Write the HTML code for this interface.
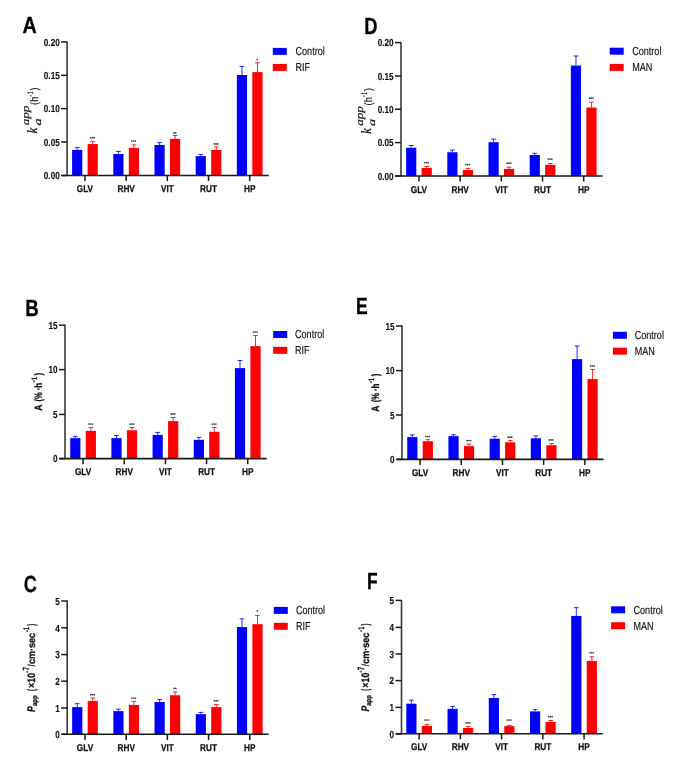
<!DOCTYPE html>
<html><head><meta charset="utf-8"><style>
html,body{margin:0;padding:0;background:#fff;}
body{width:685px;height:777px;overflow:hidden;}
svg{display:block;will-change:transform;}
text{fill:#111;text-rendering:geometricPrecision;}
.fsi{font-family:"Liberation Serif",serif;font-style:italic;}
.fsr{font-family:"Liberation Sans",sans-serif;}
.fsb{font-family:"Liberation Sans",sans-serif;font-weight:bold;}
.fsbi{font-family:"Liberation Sans",sans-serif;font-weight:bold;font-style:italic;}
</style></head>
<body><svg width="685" height="777" viewBox="0 0 685 777">
<rect width="685" height="777" fill="#fff"/>
<text class="fsb" transform="translate(22.60,32.90) scale(0.8470,1)" style="font-size:23.30px;fill:#000;stroke:#000;stroke-width:0.30px">A</text>
<path d="M77.2 149.87V147.4M74.85 147.4H79.55" stroke="#0000ff" stroke-width="0.85" fill="none"/>
<path d="M92.7 144.04V141.6M90.35 141.6H95.05" stroke="#ff0000" stroke-width="0.85" fill="none"/>
<rect x="72.1" y="149.87" width="10.2" height="25.63" fill="#0000ff"/>
<rect x="87.6" y="144.04" width="10.2" height="31.46" fill="#ff0000"/>
<circle cx="90.75" cy="137.7" r="0.85" fill="#3c3c3c"/>
<circle cx="92.5" cy="137.7" r="0.85" fill="#3c3c3c"/>
<circle cx="94.25" cy="137.7" r="0.85" fill="#3c3c3c"/>
<path d="M84.95 175.5V181.1" stroke="#1a1a1a" stroke-width="1.5"/>
<text class="fsb" transform="translate(84.95,192.10) scale(0.8400,1)" style="font-size:9.80px;stroke:#111;stroke-width:0.25px;text-anchor:middle">GLV</text>
<path d="M118.39 154.02V151.45M116.04 151.45H120.74" stroke="#0000ff" stroke-width="0.85" fill="none"/>
<path d="M133.89 147.87V144.9M131.54 144.9H136.24" stroke="#ff0000" stroke-width="0.85" fill="none"/>
<rect x="113.29" y="154.02" width="10.2" height="21.48" fill="#0000ff"/>
<rect x="128.79" y="147.87" width="10.2" height="27.63" fill="#ff0000"/>
<circle cx="131.94" cy="141" r="0.85" fill="#3c3c3c"/>
<circle cx="133.69" cy="141" r="0.85" fill="#3c3c3c"/>
<circle cx="135.44" cy="141" r="0.85" fill="#3c3c3c"/>
<path d="M126.14 175.5V181.1" stroke="#1a1a1a" stroke-width="1.5"/>
<text class="fsb" transform="translate(126.14,192.10) scale(0.8400,1)" style="font-size:9.80px;stroke:#111;stroke-width:0.25px;text-anchor:middle">RHV</text>
<path d="M159.58 144.97V142.6M157.23 142.6H161.93" stroke="#0000ff" stroke-width="0.85" fill="none"/>
<path d="M175.08 138.93V135.5M172.73 135.5H177.43" stroke="#ff0000" stroke-width="0.85" fill="none"/>
<rect x="154.48" y="144.97" width="10.2" height="30.53" fill="#0000ff"/>
<rect x="169.98" y="138.93" width="10.2" height="36.57" fill="#ff0000"/>
<circle cx="174" cy="132.9" r="0.85" fill="#3c3c3c"/>
<circle cx="175.75" cy="132.9" r="0.85" fill="#3c3c3c"/>
<path d="M167.33 175.5V181.1" stroke="#1a1a1a" stroke-width="1.5"/>
<text class="fsb" transform="translate(167.33,192.10) scale(0.8400,1)" style="font-size:9.80px;stroke:#111;stroke-width:0.25px;text-anchor:middle">VIT</text>
<path d="M200.77 156.13V154.45M198.42 154.45H203.12" stroke="#0000ff" stroke-width="0.85" fill="none"/>
<path d="M216.27 149.98V146.9M213.92 146.9H218.62" stroke="#ff0000" stroke-width="0.85" fill="none"/>
<rect x="195.67" y="156.13" width="10.2" height="19.37" fill="#0000ff"/>
<rect x="211.17" y="149.98" width="10.2" height="25.52" fill="#ff0000"/>
<circle cx="214.32" cy="143.9" r="0.85" fill="#3c3c3c"/>
<circle cx="216.07" cy="143.9" r="0.85" fill="#3c3c3c"/>
<circle cx="217.82" cy="143.9" r="0.85" fill="#3c3c3c"/>
<path d="M208.52 175.5V181.1" stroke="#1a1a1a" stroke-width="1.5"/>
<text class="fsb" transform="translate(208.52,192.10) scale(0.8400,1)" style="font-size:9.80px;stroke:#111;stroke-width:0.25px;text-anchor:middle">RUT</text>
<path d="M241.96 75V66.4M239.61 66.4H244.31" stroke="#0000ff" stroke-width="0.85" fill="none"/>
<path d="M257.46 72.1V62.75M255.11 62.75H259.81" stroke="#ff0000" stroke-width="0.85" fill="none"/>
<rect x="236.86" y="75" width="10.2" height="100.5" fill="#0000ff"/>
<rect x="252.36" y="72.1" width="10.2" height="103.4" fill="#ff0000"/>
<circle cx="257.26" cy="59.3" r="0.85" fill="#3c3c3c"/>
<path d="M249.71 175.5V181.1" stroke="#1a1a1a" stroke-width="1.5"/>
<text class="fsb" transform="translate(249.71,192.10) scale(0.8400,1)" style="font-size:9.80px;stroke:#111;stroke-width:0.25px;text-anchor:middle">HP</text>
<path d="M67.1 41.5V175.5" stroke="#3a3a3a" stroke-width="1.6" fill="none"/>
<path d="M61.5 175.5H268.8" stroke="#1a1a1a" stroke-width="1.6" fill="none"/>
<path d="M61.1 41.9H67.1" stroke="#1a1a1a" stroke-width="1.5"/>
<text class="fsb" transform="translate(59.70,45.75) scale(0.8000,1)" style="font-size:10.20px;stroke:#111;stroke-width:0.15px;text-anchor:end">0.20</text>
<path d="M61.1 75.3H67.1" stroke="#1a1a1a" stroke-width="1.5"/>
<text class="fsb" transform="translate(59.70,79.15) scale(0.8000,1)" style="font-size:10.20px;stroke:#111;stroke-width:0.15px;text-anchor:end">0.15</text>
<path d="M61.1 108.6H67.1" stroke="#1a1a1a" stroke-width="1.5"/>
<text class="fsb" transform="translate(59.70,112.45) scale(0.8000,1)" style="font-size:10.20px;stroke:#111;stroke-width:0.15px;text-anchor:end">0.10</text>
<path d="M61.1 142H67.1" stroke="#1a1a1a" stroke-width="1.5"/>
<text class="fsb" transform="translate(59.70,145.85) scale(0.8000,1)" style="font-size:10.20px;stroke:#111;stroke-width:0.15px;text-anchor:end">0.05</text>
<path d="M61.1 175.5H67.1" stroke="#1a1a1a" stroke-width="1.5"/>
<text class="fsb" transform="translate(59.70,179.35) scale(0.8000,1)" style="font-size:10.20px;stroke:#111;stroke-width:0.15px;text-anchor:end">0.00</text>
<rect x="272.8" y="47.9" width="14.0" height="7" fill="#0000ff"/>
<rect x="272.8" y="63.95" width="14.0" height="7" fill="#ff0000"/>
<text class="fsr" transform="translate(295.50,55.30) scale(0.7820,1)" style="font-size:11.60px;stroke:#111;stroke-width:0.15px">Control</text>
<text class="fsr" transform="translate(295.50,71.35) scale(0.7820,1)" style="font-size:11.60px;stroke:#111;stroke-width:0.15px">RIF</text>
<text class="fsi" transform="translate(36.80,133.21) rotate(-90) scale(0.8823,1)" style="font-size:13.98px;stroke:#111;stroke-width:0.30px">k</text>
<text class="fsi" transform="translate(40.70,125.57) rotate(-90) scale(1.4584,1)" style="font-size:9.67px;stroke:#111;stroke-width:0.20px">a</text>
<text class="fsi" transform="translate(29.29,125.34) rotate(-90) scale(1.2646,1)" style="font-size:10.38px;stroke:#111;stroke-width:0.15px">app</text>
<text class="fsr" transform="translate(38.11,104.92) rotate(-90) scale(0.8471,1)" style="font-size:10.84px;stroke:#111;stroke-width:0.20px">(h</text>
<text class="fsr" transform="translate(32.58,96.87) rotate(-90) scale(0.8000,1)" style="font-size:8.00px;stroke:#111;stroke-width:0.20px">-</text>
<text class="fsr" transform="translate(32.65,94.07) rotate(-90) scale(0.5222,1)" style="font-size:7.99px;stroke:#111;stroke-width:0.20px">1</text>
<text class="fsr" transform="translate(38.06,90.20) rotate(-90) scale(0.7164,1)" style="font-size:11.06px;stroke:#111;stroke-width:0.20px">)</text>
<text class="fsb" transform="translate(364.30,34.00) scale(0.7890,1)" style="font-size:23.30px;fill:#000;stroke:#000;stroke-width:0.30px">D</text>
<path d="M411.2 147.77V145.5M408.85 145.5H413.55" stroke="#0000ff" stroke-width="0.85" fill="none"/>
<path d="M426.7 168V166.5M424.35 166.5H429.05" stroke="#ff0000" stroke-width="0.85" fill="none"/>
<rect x="406.1" y="147.77" width="10.2" height="28.23" fill="#0000ff"/>
<rect x="421.6" y="168" width="10.2" height="8" fill="#ff0000"/>
<circle cx="424.75" cy="162.6" r="0.85" fill="#3c3c3c"/>
<circle cx="426.5" cy="162.6" r="0.85" fill="#3c3c3c"/>
<circle cx="428.25" cy="162.6" r="0.85" fill="#3c3c3c"/>
<path d="M418.95 176V181.6" stroke="#1a1a1a" stroke-width="1.5"/>
<text class="fsb" transform="translate(418.95,192.60) scale(0.8400,1)" style="font-size:9.80px;stroke:#111;stroke-width:0.25px;text-anchor:middle">GLV</text>
<path d="M452.39 152.24V150M450.04 150H454.74" stroke="#0000ff" stroke-width="0.85" fill="none"/>
<path d="M467.89 170.06V168.45M465.54 168.45H470.24" stroke="#ff0000" stroke-width="0.85" fill="none"/>
<rect x="447.29" y="152.24" width="10.2" height="23.76" fill="#0000ff"/>
<rect x="462.79" y="170.06" width="10.2" height="5.94" fill="#ff0000"/>
<circle cx="465.94" cy="164.6" r="0.85" fill="#3c3c3c"/>
<circle cx="467.69" cy="164.6" r="0.85" fill="#3c3c3c"/>
<circle cx="469.44" cy="164.6" r="0.85" fill="#3c3c3c"/>
<path d="M460.14 176V181.6" stroke="#1a1a1a" stroke-width="1.5"/>
<text class="fsb" transform="translate(460.14,192.60) scale(0.8400,1)" style="font-size:9.80px;stroke:#111;stroke-width:0.25px;text-anchor:middle">RHV</text>
<path d="M493.58 142.2V139.05M491.23 139.05H495.93" stroke="#0000ff" stroke-width="0.85" fill="none"/>
<path d="M509.08 169V167.2M506.73 167.2H511.43" stroke="#ff0000" stroke-width="0.85" fill="none"/>
<rect x="488.48" y="142.2" width="10.2" height="33.8" fill="#0000ff"/>
<rect x="503.98" y="169" width="10.2" height="7" fill="#ff0000"/>
<circle cx="507.13" cy="163.15" r="0.85" fill="#3c3c3c"/>
<circle cx="508.88" cy="163.15" r="0.85" fill="#3c3c3c"/>
<circle cx="510.63" cy="163.15" r="0.85" fill="#3c3c3c"/>
<path d="M501.33 176V181.6" stroke="#1a1a1a" stroke-width="1.5"/>
<text class="fsb" transform="translate(501.33,192.60) scale(0.8400,1)" style="font-size:9.80px;stroke:#111;stroke-width:0.25px;text-anchor:middle">VIT</text>
<path d="M534.77 154.98V153.25M532.42 153.25H537.12" stroke="#0000ff" stroke-width="0.85" fill="none"/>
<path d="M550.27 164.86V163.45M547.92 163.45H552.62" stroke="#ff0000" stroke-width="0.85" fill="none"/>
<rect x="529.67" y="154.98" width="10.2" height="21.02" fill="#0000ff"/>
<rect x="545.17" y="164.86" width="10.2" height="11.14" fill="#ff0000"/>
<circle cx="548.32" cy="159.1" r="0.85" fill="#3c3c3c"/>
<circle cx="550.07" cy="159.1" r="0.85" fill="#3c3c3c"/>
<circle cx="551.82" cy="159.1" r="0.85" fill="#3c3c3c"/>
<path d="M542.52 176V181.6" stroke="#1a1a1a" stroke-width="1.5"/>
<text class="fsb" transform="translate(542.52,192.60) scale(0.8400,1)" style="font-size:9.80px;stroke:#111;stroke-width:0.25px;text-anchor:middle">RUT</text>
<path d="M575.96 65.56V56M573.61 56H578.31" stroke="#0000ff" stroke-width="0.85" fill="none"/>
<path d="M591.46 107.5V102.15M589.11 102.15H593.81" stroke="#ff0000" stroke-width="0.85" fill="none"/>
<rect x="570.86" y="65.56" width="10.2" height="110.44" fill="#0000ff"/>
<rect x="586.36" y="107.5" width="10.2" height="68.5" fill="#ff0000"/>
<circle cx="589.51" cy="98.15" r="0.85" fill="#3c3c3c"/>
<circle cx="591.26" cy="98.15" r="0.85" fill="#3c3c3c"/>
<circle cx="593.01" cy="98.15" r="0.85" fill="#3c3c3c"/>
<path d="M583.71 176V181.6" stroke="#1a1a1a" stroke-width="1.5"/>
<text class="fsb" transform="translate(583.71,192.60) scale(0.8400,1)" style="font-size:9.80px;stroke:#111;stroke-width:0.25px;text-anchor:middle">HP</text>
<path d="M401 42.2V176" stroke="#3a3a3a" stroke-width="1.6" fill="none"/>
<path d="M395.4 176H602.7" stroke="#1a1a1a" stroke-width="1.6" fill="none"/>
<path d="M395 42.6H401" stroke="#1a1a1a" stroke-width="1.5"/>
<text class="fsb" transform="translate(393.60,46.45) scale(0.8000,1)" style="font-size:10.20px;stroke:#111;stroke-width:0.15px;text-anchor:end">0.20</text>
<path d="M395 76H401" stroke="#1a1a1a" stroke-width="1.5"/>
<text class="fsb" transform="translate(393.60,79.85) scale(0.8000,1)" style="font-size:10.20px;stroke:#111;stroke-width:0.15px;text-anchor:end">0.15</text>
<path d="M395 109.2H401" stroke="#1a1a1a" stroke-width="1.5"/>
<text class="fsb" transform="translate(393.60,113.05) scale(0.8000,1)" style="font-size:10.20px;stroke:#111;stroke-width:0.15px;text-anchor:end">0.10</text>
<path d="M395 142.6H401" stroke="#1a1a1a" stroke-width="1.5"/>
<text class="fsb" transform="translate(393.60,146.45) scale(0.8000,1)" style="font-size:10.20px;stroke:#111;stroke-width:0.15px;text-anchor:end">0.05</text>
<path d="M395 176H401" stroke="#1a1a1a" stroke-width="1.5"/>
<text class="fsb" transform="translate(393.60,179.85) scale(0.8000,1)" style="font-size:10.20px;stroke:#111;stroke-width:0.15px;text-anchor:end">0.00</text>
<rect x="609.7" y="47.7" width="14.0" height="7" fill="#0000ff"/>
<rect x="609.7" y="63.9" width="14.0" height="7" fill="#ff0000"/>
<text class="fsr" transform="translate(632.20,55.10) scale(0.7820,1)" style="font-size:11.60px;stroke:#111;stroke-width:0.15px">Control</text>
<text class="fsr" transform="translate(632.20,71.30) scale(0.7820,1)" style="font-size:11.60px;stroke:#111;stroke-width:0.15px">MAN</text>
<text class="fsi" transform="translate(370.70,133.71) rotate(-90) scale(0.8823,1)" style="font-size:13.98px;stroke:#111;stroke-width:0.30px">k</text>
<text class="fsi" transform="translate(374.60,126.07) rotate(-90) scale(1.4584,1)" style="font-size:9.67px;stroke:#111;stroke-width:0.20px">a</text>
<text class="fsi" transform="translate(363.19,125.84) rotate(-90) scale(1.2646,1)" style="font-size:10.38px;stroke:#111;stroke-width:0.15px">app</text>
<text class="fsr" transform="translate(372.01,105.42) rotate(-90) scale(0.8471,1)" style="font-size:10.84px;stroke:#111;stroke-width:0.20px">(h</text>
<text class="fsr" transform="translate(366.48,97.37) rotate(-90) scale(0.8000,1)" style="font-size:8.00px;stroke:#111;stroke-width:0.20px">-</text>
<text class="fsr" transform="translate(366.55,94.57) rotate(-90) scale(0.5222,1)" style="font-size:7.99px;stroke:#111;stroke-width:0.20px">1</text>
<text class="fsr" transform="translate(371.96,90.70) rotate(-90) scale(0.7164,1)" style="font-size:11.06px;stroke:#111;stroke-width:0.20px">)</text>
<text class="fsb" transform="translate(25.30,315.80) scale(0.8000,1)" style="font-size:23.30px;fill:#000;stroke:#000;stroke-width:0.30px">B</text>
<path d="M75.33 438.13V436.4M72.98 436.4H77.68" stroke="#0000ff" stroke-width="0.85" fill="none"/>
<path d="M90.83 430.93V427.55M88.48 427.55H93.18" stroke="#ff0000" stroke-width="0.85" fill="none"/>
<rect x="70.23" y="438.13" width="10.2" height="20.47" fill="#0000ff"/>
<rect x="85.73" y="430.93" width="10.2" height="27.67" fill="#ff0000"/>
<circle cx="88.88" cy="424" r="0.85" fill="#3c3c3c"/>
<circle cx="90.63" cy="424" r="0.85" fill="#3c3c3c"/>
<circle cx="92.38" cy="424" r="0.85" fill="#3c3c3c"/>
<path d="M83.08 458.6V464.2" stroke="#1a1a1a" stroke-width="1.5"/>
<text class="fsb" transform="translate(83.08,475.20) scale(0.8400,1)" style="font-size:9.80px;stroke:#111;stroke-width:0.25px;text-anchor:middle">GLV</text>
<path d="M116.5 438.13V435.55M114.15 435.55H118.85" stroke="#0000ff" stroke-width="0.85" fill="none"/>
<path d="M132 430.25V427.5M129.65 427.5H134.35" stroke="#ff0000" stroke-width="0.85" fill="none"/>
<rect x="111.4" y="438.13" width="10.2" height="20.47" fill="#0000ff"/>
<rect x="126.9" y="430.25" width="10.2" height="28.35" fill="#ff0000"/>
<circle cx="130.05" cy="424.1" r="0.85" fill="#3c3c3c"/>
<circle cx="131.8" cy="424.1" r="0.85" fill="#3c3c3c"/>
<circle cx="133.55" cy="424.1" r="0.85" fill="#3c3c3c"/>
<path d="M124.25 458.6V464.2" stroke="#1a1a1a" stroke-width="1.5"/>
<text class="fsb" transform="translate(124.25,475.20) scale(0.8400,1)" style="font-size:9.80px;stroke:#111;stroke-width:0.25px;text-anchor:middle">RHV</text>
<path d="M157.67 434.9V432.4M155.32 432.4H160.02" stroke="#0000ff" stroke-width="0.85" fill="none"/>
<path d="M173.17 421.14V417.5M170.82 417.5H175.52" stroke="#ff0000" stroke-width="0.85" fill="none"/>
<rect x="152.57" y="434.9" width="10.2" height="23.7" fill="#0000ff"/>
<rect x="168.07" y="421.14" width="10.2" height="37.46" fill="#ff0000"/>
<circle cx="171.22" cy="413.9" r="0.85" fill="#3c3c3c"/>
<circle cx="172.97" cy="413.9" r="0.85" fill="#3c3c3c"/>
<circle cx="174.72" cy="413.9" r="0.85" fill="#3c3c3c"/>
<path d="M165.42 458.6V464.2" stroke="#1a1a1a" stroke-width="1.5"/>
<text class="fsb" transform="translate(165.42,475.20) scale(0.8400,1)" style="font-size:9.80px;stroke:#111;stroke-width:0.25px;text-anchor:middle">VIT</text>
<path d="M198.84 439.86V437.35M196.49 437.35H201.19" stroke="#0000ff" stroke-width="0.85" fill="none"/>
<path d="M214.34 431.82V427.55M211.99 427.55H216.69" stroke="#ff0000" stroke-width="0.85" fill="none"/>
<rect x="193.74" y="439.86" width="10.2" height="18.74" fill="#0000ff"/>
<rect x="209.24" y="431.82" width="10.2" height="26.78" fill="#ff0000"/>
<circle cx="212.39" cy="424.1" r="0.85" fill="#3c3c3c"/>
<circle cx="214.14" cy="424.1" r="0.85" fill="#3c3c3c"/>
<circle cx="215.89" cy="424.1" r="0.85" fill="#3c3c3c"/>
<path d="M206.59 458.6V464.2" stroke="#1a1a1a" stroke-width="1.5"/>
<text class="fsb" transform="translate(206.59,475.20) scale(0.8400,1)" style="font-size:9.80px;stroke:#111;stroke-width:0.25px;text-anchor:middle">RUT</text>
<path d="M240.01 368.1V360.5M237.66 360.5H242.36" stroke="#0000ff" stroke-width="0.85" fill="none"/>
<path d="M255.51 346.1V335.5M253.16 335.5H257.86" stroke="#ff0000" stroke-width="0.85" fill="none"/>
<rect x="234.91" y="368.1" width="10.2" height="90.5" fill="#0000ff"/>
<rect x="250.41" y="346.1" width="10.2" height="112.5" fill="#ff0000"/>
<circle cx="253.56" cy="332" r="0.85" fill="#3c3c3c"/>
<circle cx="255.31" cy="332" r="0.85" fill="#3c3c3c"/>
<circle cx="257.06" cy="332" r="0.85" fill="#3c3c3c"/>
<path d="M247.76 458.6V464.2" stroke="#1a1a1a" stroke-width="1.5"/>
<text class="fsb" transform="translate(247.76,475.20) scale(0.8400,1)" style="font-size:9.80px;stroke:#111;stroke-width:0.25px;text-anchor:middle">HP</text>
<path d="M65 324.8V458.6" stroke="#3a3a3a" stroke-width="1.6" fill="none"/>
<path d="M59.4 458.6H266.6" stroke="#1a1a1a" stroke-width="1.6" fill="none"/>
<path d="M59 325.2H65" stroke="#1a1a1a" stroke-width="1.5"/>
<text class="fsb" transform="translate(57.60,329.05) scale(0.8000,1)" style="font-size:10.20px;stroke:#111;stroke-width:0.15px;text-anchor:end">15</text>
<path d="M59 369.6H65" stroke="#1a1a1a" stroke-width="1.5"/>
<text class="fsb" transform="translate(57.60,373.45) scale(0.8000,1)" style="font-size:10.20px;stroke:#111;stroke-width:0.15px;text-anchor:end">10</text>
<path d="M59 414.4H65" stroke="#1a1a1a" stroke-width="1.5"/>
<text class="fsb" transform="translate(57.60,418.25) scale(0.8000,1)" style="font-size:10.20px;stroke:#111;stroke-width:0.15px;text-anchor:end">5</text>
<path d="M59 458.6H65" stroke="#1a1a1a" stroke-width="1.5"/>
<text class="fsb" transform="translate(57.60,462.45) scale(0.8000,1)" style="font-size:10.20px;stroke:#111;stroke-width:0.15px;text-anchor:end">0</text>
<rect x="273.2" y="331" width="14.0" height="7" fill="#0000ff"/>
<rect x="273.2" y="346.8" width="14.0" height="7" fill="#ff0000"/>
<text class="fsr" transform="translate(295.00,338.40) scale(0.7820,1)" style="font-size:11.60px;stroke:#111;stroke-width:0.15px">Control</text>
<text class="fsr" transform="translate(295.00,354.20) scale(0.7820,1)" style="font-size:11.60px;stroke:#111;stroke-width:0.15px">RIF</text>
<text class="fsb" transform="translate(41.95,410.86) rotate(-90) scale(0.8007,1)" style="font-size:10.61px;stroke:#111;stroke-width:0.30px">A</text>
<text class="fsb" transform="translate(41.85,401.52) rotate(-90) scale(0.7066,1)" style="font-size:10.62px;stroke:#111;stroke-width:0.30px">(%</text>
<text class="fsb" transform="translate(41.85,390.17) rotate(-90) scale(0.8000,1)" style="font-size:10.50px;stroke:#111;stroke-width:0.30px">·</text>
<text class="fsb" transform="translate(41.95,387.82) rotate(-90) scale(0.7866,1)" style="font-size:10.35px;stroke:#111;stroke-width:0.30px">h</text>
<text class="fsb" transform="translate(35.84,382.15) rotate(-90) scale(0.8000,1)" style="font-size:7.50px;stroke:#111;stroke-width:0.30px">-</text>
<text class="fsb" transform="translate(36.65,379.83) rotate(-90) scale(0.5750,1)" style="font-size:7.85px;stroke:#111;stroke-width:0.30px">1</text>
<text class="fsb" transform="translate(41.85,375.46) rotate(-90) scale(0.7339,1)" style="font-size:10.62px;stroke:#111;stroke-width:0.30px">)</text>
<text class="fsb" transform="translate(356.10,314.00) scale(0.7520,1)" style="font-size:23.30px;fill:#000;stroke:#000;stroke-width:0.30px">E</text>
<path d="M412.33 437.09V434.85M409.98 434.85H414.68" stroke="#0000ff" stroke-width="0.85" fill="none"/>
<path d="M427.83 441.2V439.65M425.48 439.65H430.18" stroke="#ff0000" stroke-width="0.85" fill="none"/>
<rect x="407.23" y="437.09" width="10.2" height="22.31" fill="#0000ff"/>
<rect x="422.73" y="441.2" width="10.2" height="18.2" fill="#ff0000"/>
<circle cx="425.88" cy="436.5" r="0.85" fill="#3c3c3c"/>
<circle cx="427.63" cy="436.5" r="0.85" fill="#3c3c3c"/>
<circle cx="429.38" cy="436.5" r="0.85" fill="#3c3c3c"/>
<path d="M420.08 459.4V465" stroke="#1a1a1a" stroke-width="1.5"/>
<text class="fsb" transform="translate(420.08,476.00) scale(0.8400,1)" style="font-size:9.80px;stroke:#111;stroke-width:0.25px;text-anchor:middle">GLV</text>
<path d="M453.52 436.15V434.8M451.17 434.8H455.87" stroke="#0000ff" stroke-width="0.85" fill="none"/>
<path d="M469.02 446.13V444M466.67 444H471.37" stroke="#ff0000" stroke-width="0.85" fill="none"/>
<rect x="448.42" y="436.15" width="10.2" height="23.25" fill="#0000ff"/>
<rect x="463.92" y="446.13" width="10.2" height="13.27" fill="#ff0000"/>
<circle cx="467.07" cy="440.5" r="0.85" fill="#3c3c3c"/>
<circle cx="468.82" cy="440.5" r="0.85" fill="#3c3c3c"/>
<circle cx="470.57" cy="440.5" r="0.85" fill="#3c3c3c"/>
<path d="M461.27 459.4V465" stroke="#1a1a1a" stroke-width="1.5"/>
<text class="fsb" transform="translate(461.27,476.00) scale(0.8400,1)" style="font-size:9.80px;stroke:#111;stroke-width:0.25px;text-anchor:middle">RHV</text>
<path d="M494.71 438.77V436.35M492.36 436.35H497.06" stroke="#0000ff" stroke-width="0.85" fill="none"/>
<path d="M510.21 442.3V440.45M507.86 440.45H512.56" stroke="#ff0000" stroke-width="0.85" fill="none"/>
<rect x="489.61" y="438.77" width="10.2" height="20.63" fill="#0000ff"/>
<rect x="505.11" y="442.3" width="10.2" height="17.1" fill="#ff0000"/>
<circle cx="508.26" cy="437.2" r="0.85" fill="#3c3c3c"/>
<circle cx="510.01" cy="437.2" r="0.85" fill="#3c3c3c"/>
<circle cx="511.76" cy="437.2" r="0.85" fill="#3c3c3c"/>
<path d="M502.46 459.4V465" stroke="#1a1a1a" stroke-width="1.5"/>
<text class="fsb" transform="translate(502.46,476.00) scale(0.8400,1)" style="font-size:9.80px;stroke:#111;stroke-width:0.25px;text-anchor:middle">VIT</text>
<path d="M535.9 438.25V435.9M533.55 435.9H538.25" stroke="#0000ff" stroke-width="0.85" fill="none"/>
<path d="M551.4 445.24V443.7M549.05 443.7H553.75" stroke="#ff0000" stroke-width="0.85" fill="none"/>
<rect x="530.8" y="438.25" width="10.2" height="21.15" fill="#0000ff"/>
<rect x="546.3" y="445.24" width="10.2" height="14.16" fill="#ff0000"/>
<circle cx="549.45" cy="439.95" r="0.85" fill="#3c3c3c"/>
<circle cx="551.2" cy="439.95" r="0.85" fill="#3c3c3c"/>
<circle cx="552.95" cy="439.95" r="0.85" fill="#3c3c3c"/>
<path d="M543.65 459.4V465" stroke="#1a1a1a" stroke-width="1.5"/>
<text class="fsb" transform="translate(543.65,476.00) scale(0.8400,1)" style="font-size:9.80px;stroke:#111;stroke-width:0.25px;text-anchor:middle">RUT</text>
<path d="M577.09 359.1V346M574.74 346H579.44" stroke="#0000ff" stroke-width="0.85" fill="none"/>
<path d="M592.59 379.06V369.45M590.24 369.45H594.94" stroke="#ff0000" stroke-width="0.85" fill="none"/>
<rect x="571.99" y="359.1" width="10.2" height="100.3" fill="#0000ff"/>
<rect x="587.49" y="379.06" width="10.2" height="80.34" fill="#ff0000"/>
<circle cx="590.64" cy="365.95" r="0.85" fill="#3c3c3c"/>
<circle cx="592.39" cy="365.95" r="0.85" fill="#3c3c3c"/>
<circle cx="594.14" cy="365.95" r="0.85" fill="#3c3c3c"/>
<path d="M584.84 459.4V465" stroke="#1a1a1a" stroke-width="1.5"/>
<text class="fsb" transform="translate(584.84,476.00) scale(0.8400,1)" style="font-size:9.80px;stroke:#111;stroke-width:0.25px;text-anchor:middle">HP</text>
<path d="M402 325.6V459.4" stroke="#3a3a3a" stroke-width="1.6" fill="none"/>
<path d="M396.4 459.4H603.6" stroke="#1a1a1a" stroke-width="1.6" fill="none"/>
<path d="M396 326H402" stroke="#1a1a1a" stroke-width="1.5"/>
<text class="fsb" transform="translate(394.60,329.85) scale(0.8000,1)" style="font-size:10.20px;stroke:#111;stroke-width:0.15px;text-anchor:end">15</text>
<path d="M396 370.6H402" stroke="#1a1a1a" stroke-width="1.5"/>
<text class="fsb" transform="translate(394.60,374.45) scale(0.8000,1)" style="font-size:10.20px;stroke:#111;stroke-width:0.15px;text-anchor:end">10</text>
<path d="M396 415H402" stroke="#1a1a1a" stroke-width="1.5"/>
<text class="fsb" transform="translate(394.60,418.85) scale(0.8000,1)" style="font-size:10.20px;stroke:#111;stroke-width:0.15px;text-anchor:end">5</text>
<path d="M396 459.4H402" stroke="#1a1a1a" stroke-width="1.5"/>
<text class="fsb" transform="translate(394.60,463.25) scale(0.8000,1)" style="font-size:10.20px;stroke:#111;stroke-width:0.15px;text-anchor:end">0</text>
<rect x="612.9" y="331.8" width="14.0" height="7" fill="#0000ff"/>
<rect x="612.9" y="347.7" width="14.0" height="7" fill="#ff0000"/>
<text class="fsr" transform="translate(634.70,339.20) scale(0.7820,1)" style="font-size:11.60px;stroke:#111;stroke-width:0.15px">Control</text>
<text class="fsr" transform="translate(634.70,355.10) scale(0.7820,1)" style="font-size:11.60px;stroke:#111;stroke-width:0.15px">MAN</text>
<text class="fsb" transform="translate(378.95,411.66) rotate(-90) scale(0.8007,1)" style="font-size:10.61px;stroke:#111;stroke-width:0.30px">A</text>
<text class="fsb" transform="translate(378.85,402.32) rotate(-90) scale(0.7066,1)" style="font-size:10.62px;stroke:#111;stroke-width:0.30px">(%</text>
<text class="fsb" transform="translate(378.85,390.97) rotate(-90) scale(0.8000,1)" style="font-size:10.50px;stroke:#111;stroke-width:0.30px">·</text>
<text class="fsb" transform="translate(378.95,388.62) rotate(-90) scale(0.7866,1)" style="font-size:10.35px;stroke:#111;stroke-width:0.30px">h</text>
<text class="fsb" transform="translate(372.84,382.95) rotate(-90) scale(0.8000,1)" style="font-size:7.50px;stroke:#111;stroke-width:0.30px">-</text>
<text class="fsb" transform="translate(373.65,380.63) rotate(-90) scale(0.5750,1)" style="font-size:7.85px;stroke:#111;stroke-width:0.30px">1</text>
<text class="fsb" transform="translate(378.85,376.26) rotate(-90) scale(0.7339,1)" style="font-size:10.62px;stroke:#111;stroke-width:0.30px">)</text>
<text class="fsb" transform="translate(23.70,592.30) scale(0.7730,1)" style="font-size:23.30px;fill:#000;stroke:#000;stroke-width:0.30px">C</text>
<path d="M77.25 707.08V703.7M74.9 703.7H79.6" stroke="#0000ff" stroke-width="0.85" fill="none"/>
<path d="M92.75 701.04V698M90.4 698H95.1" stroke="#ff0000" stroke-width="0.85" fill="none"/>
<rect x="72.15" y="707.08" width="10.2" height="27.22" fill="#0000ff"/>
<rect x="87.65" y="701.04" width="10.2" height="33.26" fill="#ff0000"/>
<circle cx="90.8" cy="694.65" r="0.85" fill="#3c3c3c"/>
<circle cx="92.55" cy="694.65" r="0.85" fill="#3c3c3c"/>
<circle cx="94.3" cy="694.65" r="0.85" fill="#3c3c3c"/>
<path d="M85 734.3V739.9" stroke="#1a1a1a" stroke-width="1.5"/>
<text class="fsb" transform="translate(85.00,750.90) scale(0.8400,1)" style="font-size:9.80px;stroke:#111;stroke-width:0.25px;text-anchor:middle">GLV</text>
<path d="M118.44 711.13V709.1M116.09 709.1H120.79" stroke="#0000ff" stroke-width="0.85" fill="none"/>
<path d="M133.94 704.98V701.35M131.59 701.35H136.29" stroke="#ff0000" stroke-width="0.85" fill="none"/>
<rect x="113.34" y="711.13" width="10.2" height="23.17" fill="#0000ff"/>
<rect x="128.84" y="704.98" width="10.2" height="29.32" fill="#ff0000"/>
<circle cx="131.99" cy="698" r="0.85" fill="#3c3c3c"/>
<circle cx="133.74" cy="698" r="0.85" fill="#3c3c3c"/>
<circle cx="135.49" cy="698" r="0.85" fill="#3c3c3c"/>
<path d="M126.19 734.3V739.9" stroke="#1a1a1a" stroke-width="1.5"/>
<text class="fsb" transform="translate(126.19,750.90) scale(0.8400,1)" style="font-size:9.80px;stroke:#111;stroke-width:0.25px;text-anchor:middle">RHV</text>
<path d="M159.63 702.02V699.45M157.28 699.45H161.98" stroke="#0000ff" stroke-width="0.85" fill="none"/>
<path d="M175.13 695.24V691.9M172.78 691.9H177.48" stroke="#ff0000" stroke-width="0.85" fill="none"/>
<rect x="154.53" y="702.02" width="10.2" height="32.28" fill="#0000ff"/>
<rect x="170.03" y="695.24" width="10.2" height="39.06" fill="#ff0000"/>
<circle cx="174.06" cy="688.4" r="0.85" fill="#3c3c3c"/>
<circle cx="175.81" cy="688.4" r="0.85" fill="#3c3c3c"/>
<path d="M167.38 734.3V739.9" stroke="#1a1a1a" stroke-width="1.5"/>
<text class="fsb" transform="translate(167.38,750.90) scale(0.8400,1)" style="font-size:9.80px;stroke:#111;stroke-width:0.25px;text-anchor:middle">VIT</text>
<path d="M200.82 714.18V712.4M198.47 712.4H203.17" stroke="#0000ff" stroke-width="0.85" fill="none"/>
<path d="M216.32 707.09V704.5M213.97 704.5H218.67" stroke="#ff0000" stroke-width="0.85" fill="none"/>
<rect x="195.72" y="714.18" width="10.2" height="20.12" fill="#0000ff"/>
<rect x="211.22" y="707.09" width="10.2" height="27.21" fill="#ff0000"/>
<circle cx="214.37" cy="700.8" r="0.85" fill="#3c3c3c"/>
<circle cx="216.12" cy="700.8" r="0.85" fill="#3c3c3c"/>
<circle cx="217.87" cy="700.8" r="0.85" fill="#3c3c3c"/>
<path d="M208.57 734.3V739.9" stroke="#1a1a1a" stroke-width="1.5"/>
<text class="fsb" transform="translate(208.57,750.90) scale(0.8400,1)" style="font-size:9.80px;stroke:#111;stroke-width:0.25px;text-anchor:middle">RUT</text>
<path d="M242.01 627.07V618.8M239.66 618.8H244.36" stroke="#0000ff" stroke-width="0.85" fill="none"/>
<path d="M257.51 624.18V615.4M255.16 615.4H259.86" stroke="#ff0000" stroke-width="0.85" fill="none"/>
<rect x="236.91" y="627.07" width="10.2" height="107.23" fill="#0000ff"/>
<rect x="252.41" y="624.18" width="10.2" height="110.12" fill="#ff0000"/>
<circle cx="257.31" cy="610.9" r="0.85" fill="#3c3c3c"/>
<path d="M249.76 734.3V739.9" stroke="#1a1a1a" stroke-width="1.5"/>
<text class="fsb" transform="translate(249.76,750.90) scale(0.8400,1)" style="font-size:9.80px;stroke:#111;stroke-width:0.25px;text-anchor:middle">HP</text>
<path d="M67.2 600.6V734.3" stroke="#3a3a3a" stroke-width="1.6" fill="none"/>
<path d="M61.6 734.3H268.7" stroke="#1a1a1a" stroke-width="1.6" fill="none"/>
<path d="M61.2 601H67.2" stroke="#1a1a1a" stroke-width="1.5"/>
<text class="fsb" transform="translate(59.80,604.85) scale(0.8000,1)" style="font-size:10.20px;stroke:#111;stroke-width:0.15px;text-anchor:end">5</text>
<path d="M61.2 627.8H67.2" stroke="#1a1a1a" stroke-width="1.5"/>
<text class="fsb" transform="translate(59.80,631.65) scale(0.8000,1)" style="font-size:10.20px;stroke:#111;stroke-width:0.15px;text-anchor:end">4</text>
<path d="M61.2 654.6H67.2" stroke="#1a1a1a" stroke-width="1.5"/>
<text class="fsb" transform="translate(59.80,658.45) scale(0.8000,1)" style="font-size:10.20px;stroke:#111;stroke-width:0.15px;text-anchor:end">3</text>
<path d="M61.2 681.2H67.2" stroke="#1a1a1a" stroke-width="1.5"/>
<text class="fsb" transform="translate(59.80,685.05) scale(0.8000,1)" style="font-size:10.20px;stroke:#111;stroke-width:0.15px;text-anchor:end">2</text>
<path d="M61.2 708H67.2" stroke="#1a1a1a" stroke-width="1.5"/>
<text class="fsb" transform="translate(59.80,711.85) scale(0.8000,1)" style="font-size:10.20px;stroke:#111;stroke-width:0.15px;text-anchor:end">1</text>
<path d="M61.2 734.3H67.2" stroke="#1a1a1a" stroke-width="1.5"/>
<text class="fsb" transform="translate(59.80,738.15) scale(0.8000,1)" style="font-size:10.20px;stroke:#111;stroke-width:0.15px;text-anchor:end">0</text>
<rect x="273.8" y="606.9" width="14.0" height="7" fill="#0000ff"/>
<rect x="273.8" y="622.8" width="14.0" height="7" fill="#ff0000"/>
<text class="fsr" transform="translate(295.90,614.30) scale(0.7820,1)" style="font-size:11.60px;stroke:#111;stroke-width:0.15px">Control</text>
<text class="fsr" transform="translate(295.90,630.20) scale(0.7820,1)" style="font-size:11.60px;stroke:#111;stroke-width:0.15px">RIF</text>
<text class="fsbi" transform="translate(34.65,711.90) rotate(-90) scale(0.7928,1)" style="font-size:11.05px;stroke:#111;stroke-width:0.30px">P</text>
<text class="fsb" transform="translate(37.06,706.08) rotate(-90) scale(0.8382,1)" style="font-size:7.16px;stroke:#111;stroke-width:0.30px">app</text>
<text class="fsb" transform="translate(34.58,690.93) rotate(-90) scale(0.5420,1)" style="font-size:10.46px;stroke:#111;stroke-width:0.30px">(</text>
<text class="fsb" transform="translate(34.60,687.97) rotate(-90) scale(0.8312,1)" style="font-size:10.66px;stroke:#111;stroke-width:0.30px">×10</text>
<text class="fsb" transform="translate(29.06,672.73) rotate(-90) scale(0.8000,1)" style="font-size:7.00px;stroke:#111;stroke-width:0.30px">-</text>
<text class="fsb" transform="translate(29.45,670.57) rotate(-90) scale(0.7211,1)" style="font-size:8.87px;stroke:#111;stroke-width:0.30px">7</text>
<text class="fsr" transform="translate(34.55,666.55) rotate(-90) scale(0.7753,1)" style="font-size:10.21px;stroke:#111;stroke-width:0.20px">/</text>
<text class="fsb" transform="translate(34.65,663.94) rotate(-90) scale(0.8902,1)" style="font-size:10.12px;stroke:#111;stroke-width:0.30px">cm·sec</text>
<text class="fsb" transform="translate(29.16,632.11) rotate(-90) scale(0.8000,1)" style="font-size:7.00px;stroke:#111;stroke-width:0.30px">-</text>
<text class="fsb" transform="translate(29.45,629.68) rotate(-90) scale(0.5492,1)" style="font-size:8.14px;stroke:#111;stroke-width:0.30px">1</text>
<text class="fsb" transform="translate(34.80,625.71) rotate(-90) scale(0.5723,1)" style="font-size:10.84px;stroke:#111;stroke-width:0.30px">)</text>
<text class="fsb" transform="translate(367.10,588.80) scale(0.7460,1)" style="font-size:23.30px;fill:#000;stroke:#000;stroke-width:0.30px">F</text>
<path d="M411.4 703.67V700.2M409.05 700.2H413.75" stroke="#0000ff" stroke-width="0.85" fill="none"/>
<path d="M426.9 725.9V724.4M424.55 724.4H429.25" stroke="#ff0000" stroke-width="0.85" fill="none"/>
<rect x="406.3" y="703.67" width="10.2" height="30.13" fill="#0000ff"/>
<rect x="421.8" y="725.9" width="10.2" height="7.9" fill="#ff0000"/>
<circle cx="424.95" cy="720" r="0.85" fill="#3c3c3c"/>
<circle cx="426.7" cy="720" r="0.85" fill="#3c3c3c"/>
<circle cx="428.45" cy="720" r="0.85" fill="#3c3c3c"/>
<path d="M419.15 733.8V739.4" stroke="#1a1a1a" stroke-width="1.5"/>
<text class="fsb" transform="translate(419.15,750.40) scale(0.8400,1)" style="font-size:9.80px;stroke:#111;stroke-width:0.25px;text-anchor:middle">GLV</text>
<path d="M452.63 708.83V706.45M450.28 706.45H454.98" stroke="#0000ff" stroke-width="0.85" fill="none"/>
<path d="M468.13 728V726.45M465.78 726.45H470.48" stroke="#ff0000" stroke-width="0.85" fill="none"/>
<rect x="447.53" y="708.83" width="10.2" height="24.97" fill="#0000ff"/>
<rect x="463.03" y="728" width="10.2" height="5.8" fill="#ff0000"/>
<circle cx="466.18" cy="722.85" r="0.85" fill="#3c3c3c"/>
<circle cx="467.93" cy="722.85" r="0.85" fill="#3c3c3c"/>
<circle cx="469.68" cy="722.85" r="0.85" fill="#3c3c3c"/>
<path d="M460.38 733.8V739.4" stroke="#1a1a1a" stroke-width="1.5"/>
<text class="fsb" transform="translate(460.38,750.40) scale(0.8400,1)" style="font-size:9.80px;stroke:#111;stroke-width:0.25px;text-anchor:middle">RHV</text>
<path d="M493.86 698V694.5M491.51 694.5H496.21" stroke="#0000ff" stroke-width="0.85" fill="none"/>
<path d="M509.36 726.15V725.4M507.01 725.4H511.71" stroke="#ff0000" stroke-width="0.85" fill="none"/>
<rect x="488.76" y="698" width="10.2" height="35.8" fill="#0000ff"/>
<rect x="504.26" y="726.15" width="10.2" height="7.65" fill="#ff0000"/>
<circle cx="507.41" cy="720" r="0.85" fill="#3c3c3c"/>
<circle cx="509.16" cy="720" r="0.85" fill="#3c3c3c"/>
<circle cx="510.91" cy="720" r="0.85" fill="#3c3c3c"/>
<path d="M501.61 733.8V739.4" stroke="#1a1a1a" stroke-width="1.5"/>
<text class="fsb" transform="translate(501.61,750.40) scale(0.8400,1)" style="font-size:9.80px;stroke:#111;stroke-width:0.25px;text-anchor:middle">VIT</text>
<path d="M535.09 711.4V709.55M532.74 709.55H537.44" stroke="#0000ff" stroke-width="0.85" fill="none"/>
<path d="M550.59 722.02V720.5M548.24 720.5H552.94" stroke="#ff0000" stroke-width="0.85" fill="none"/>
<rect x="529.99" y="711.4" width="10.2" height="22.4" fill="#0000ff"/>
<rect x="545.49" y="722.02" width="10.2" height="11.78" fill="#ff0000"/>
<circle cx="548.64" cy="716.7" r="0.85" fill="#3c3c3c"/>
<circle cx="550.39" cy="716.7" r="0.85" fill="#3c3c3c"/>
<circle cx="552.14" cy="716.7" r="0.85" fill="#3c3c3c"/>
<path d="M542.84 733.8V739.4" stroke="#1a1a1a" stroke-width="1.5"/>
<text class="fsb" transform="translate(542.84,750.40) scale(0.8400,1)" style="font-size:9.80px;stroke:#111;stroke-width:0.25px;text-anchor:middle">RUT</text>
<path d="M576.32 615.9V607.65M573.97 607.65H578.67" stroke="#0000ff" stroke-width="0.85" fill="none"/>
<path d="M591.82 660.97V656.75M589.47 656.75H594.17" stroke="#ff0000" stroke-width="0.85" fill="none"/>
<rect x="571.22" y="615.9" width="10.2" height="117.9" fill="#0000ff"/>
<rect x="586.72" y="660.97" width="10.2" height="72.83" fill="#ff0000"/>
<circle cx="589.87" cy="652.75" r="0.85" fill="#3c3c3c"/>
<circle cx="591.62" cy="652.75" r="0.85" fill="#3c3c3c"/>
<circle cx="593.37" cy="652.75" r="0.85" fill="#3c3c3c"/>
<path d="M584.07 733.8V739.4" stroke="#1a1a1a" stroke-width="1.5"/>
<text class="fsb" transform="translate(584.07,750.40) scale(0.8400,1)" style="font-size:9.80px;stroke:#111;stroke-width:0.25px;text-anchor:middle">HP</text>
<path d="M401.5 600V733.8" stroke="#3a3a3a" stroke-width="1.6" fill="none"/>
<path d="M395.9 733.8H602.7" stroke="#1a1a1a" stroke-width="1.6" fill="none"/>
<path d="M395.5 600.4H401.5" stroke="#1a1a1a" stroke-width="1.5"/>
<text class="fsb" transform="translate(394.10,604.25) scale(0.8000,1)" style="font-size:10.20px;stroke:#111;stroke-width:0.15px;text-anchor:end">5</text>
<path d="M395.5 627.4H401.5" stroke="#1a1a1a" stroke-width="1.5"/>
<text class="fsb" transform="translate(394.10,631.25) scale(0.8000,1)" style="font-size:10.20px;stroke:#111;stroke-width:0.15px;text-anchor:end">4</text>
<path d="M395.5 654H401.5" stroke="#1a1a1a" stroke-width="1.5"/>
<text class="fsb" transform="translate(394.10,657.85) scale(0.8000,1)" style="font-size:10.20px;stroke:#111;stroke-width:0.15px;text-anchor:end">3</text>
<path d="M395.5 680.6H401.5" stroke="#1a1a1a" stroke-width="1.5"/>
<text class="fsb" transform="translate(394.10,684.45) scale(0.8000,1)" style="font-size:10.20px;stroke:#111;stroke-width:0.15px;text-anchor:end">2</text>
<path d="M395.5 707.4H401.5" stroke="#1a1a1a" stroke-width="1.5"/>
<text class="fsb" transform="translate(394.10,711.25) scale(0.8000,1)" style="font-size:10.20px;stroke:#111;stroke-width:0.15px;text-anchor:end">1</text>
<path d="M395.5 734H401.5" stroke="#1a1a1a" stroke-width="1.5"/>
<text class="fsb" transform="translate(394.10,737.85) scale(0.8000,1)" style="font-size:10.20px;stroke:#111;stroke-width:0.15px;text-anchor:end">0</text>
<rect x="611.1" y="606.3" width="14.0" height="7" fill="#0000ff"/>
<rect x="611.1" y="622.2" width="14.0" height="7" fill="#ff0000"/>
<text class="fsr" transform="translate(633.50,613.70) scale(0.7820,1)" style="font-size:11.60px;stroke:#111;stroke-width:0.15px">Control</text>
<text class="fsr" transform="translate(633.50,629.60) scale(0.7820,1)" style="font-size:11.60px;stroke:#111;stroke-width:0.15px">MAN</text>
<text class="fsbi" transform="translate(368.95,711.60) rotate(-90) scale(0.7928,1)" style="font-size:11.05px;stroke:#111;stroke-width:0.30px">P</text>
<text class="fsb" transform="translate(371.36,705.78) rotate(-90) scale(0.8382,1)" style="font-size:7.16px;stroke:#111;stroke-width:0.30px">app</text>
<text class="fsb" transform="translate(368.88,690.63) rotate(-90) scale(0.5420,1)" style="font-size:10.46px;stroke:#111;stroke-width:0.30px">(</text>
<text class="fsb" transform="translate(368.90,687.67) rotate(-90) scale(0.8312,1)" style="font-size:10.66px;stroke:#111;stroke-width:0.30px">×10</text>
<text class="fsb" transform="translate(363.36,672.43) rotate(-90) scale(0.8000,1)" style="font-size:7.00px;stroke:#111;stroke-width:0.30px">-</text>
<text class="fsb" transform="translate(363.75,670.27) rotate(-90) scale(0.7211,1)" style="font-size:8.87px;stroke:#111;stroke-width:0.30px">7</text>
<text class="fsr" transform="translate(368.85,666.25) rotate(-90) scale(0.7753,1)" style="font-size:10.21px;stroke:#111;stroke-width:0.20px">/</text>
<text class="fsb" transform="translate(368.95,663.64) rotate(-90) scale(0.8902,1)" style="font-size:10.12px;stroke:#111;stroke-width:0.30px">cm·sec</text>
<text class="fsb" transform="translate(363.46,631.81) rotate(-90) scale(0.8000,1)" style="font-size:7.00px;stroke:#111;stroke-width:0.30px">-</text>
<text class="fsb" transform="translate(363.75,629.38) rotate(-90) scale(0.5492,1)" style="font-size:8.14px;stroke:#111;stroke-width:0.30px">1</text>
<text class="fsb" transform="translate(369.10,625.41) rotate(-90) scale(0.5723,1)" style="font-size:10.84px;stroke:#111;stroke-width:0.30px">)</text>
</svg></body></html>
